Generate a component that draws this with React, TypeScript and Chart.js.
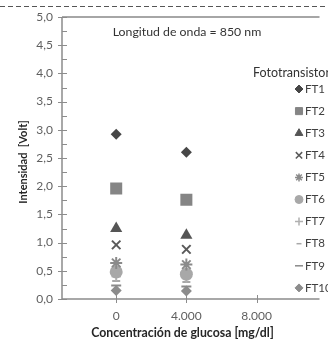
import React, { useEffect, useRef } from 'react';
import { Chart, registerables } from 'chart.js';
import { drawPoint } from 'chart.js/helpers';

Chart.register(...registerables);

// ---- data ----
const glucose = [0, 4000]; // mg/dl
const seriesNames = ['FT1', 'FT2', 'FT3', 'FT4', 'FT5', 'FT6', 'FT7', 'FT8', 'FT9', 'FT10'];
const ft1 = [2.92, 2.6];
const ft2 = [1.96, 1.76];
const ft3 = [1.25, 1.13];
const ft4 = [0.96, 0.88];
const ft5 = [0.64, 0.61];
const ft6 = [0.48, 0.44];
const ft7 = [0.4, 0.37];
const ft8 = [0.32, 0.3];
const ft9 = [0.24, 0.22];
const ft10 = [0.15, 0.14];
const seriesValues = [ft1, ft2, ft3, ft4, ft5, ft6, ft7, ft8, ft9, ft10];
const xTickValues = [0, 4000, 8000];
const yMin = 0;
const yMax = 5;
const yStep = 0.5;
const chartTitle = 'Longitud de onda = 850 nm';
const legendTitle = 'Fototransistores';
const xTitle = 'Concentración de glucosa [mg/dl]';
const yTitle = 'Intensidad  [Volt]';

// ---- styles ----
const pointStyles = ['rectRot', 'rect', 'triangle', 'crossRot', 'star', 'circle', 'cross', 'line', 'line', 'rectRot'];
const colors = ['#474747', '#858585', '#555555', '#5a5a5a', '#8a8a8a', '#a8a8a8', '#b0b0b0', '#a8a8a8', '#8a8a8a', '#8c8c8c'];
const radii = [5.5, 8.5, 7, 6, 6, 6.5, 4.5, 4, 5, 5.5];
const legendRadii = [4, 5, 4.5, 4.5, 4, 4, 4, 2.5, 4, 4];
const FONT = 'Lato, "Open Sans", sans-serif';

const fmtThousands = (v: number) => String(v).replace(/\B(?=(\d{3})+(?!\d))/g, '.');

const decorPlugin = {
  id: 'decor',
  beforeDatasetsDraw(chart: any) {
    const { ctx, chartArea, scales, width } = chart;
    const { left, right, top, bottom } = chartArea;
    ctx.save();
    // dashed line on top
    ctx.strokeStyle = '#555555';
    ctx.lineWidth = 1;
    ctx.setLineDash([5, 3]);
    ctx.beginPath();
    ctx.moveTo(0, 6.5);
    ctx.lineTo(width, 6.5);
    ctx.stroke();
    ctx.setLineDash([]);
    // top border
    ctx.strokeStyle = '#a6a6a6';
    ctx.lineWidth = 2;
    ctx.beginPath();
    ctx.moveTo(left, top);
    ctx.lineTo(right, top);
    ctx.stroke();
    // axes
    ctx.strokeStyle = '#8c8c8c';
    ctx.lineWidth = 1.5;
    ctx.beginPath();
    ctx.moveTo(left, top);
    ctx.lineTo(left, bottom);
    ctx.moveTo(left, bottom);
    ctx.lineTo(right, bottom);
    ctx.stroke();
    // y ticks (major crossing, minor inside)
    ctx.lineWidth = 1;
    const ys = scales.y;
    for (let v = yMin; v <= yMax + 1e-9; v += yStep / 2) {
      const py = Math.round(ys.getPixelForValue(v)) + 0.5;
      const major = Math.abs(v / yStep - Math.round(v / yStep)) < 1e-6;
      ctx.beginPath();
      ctx.moveTo(major ? left - 4 : left, py);
      ctx.lineTo(left + 5, py);
      ctx.stroke();
    }
    // x ticks crossing
    const xs = scales.x;
    for (const v of xTickValues) {
      const px = Math.round(xs.getPixelForValue(v)) + 0.5;
      ctx.beginPath();
      ctx.moveTo(px, bottom - 4);
      ctx.lineTo(px, bottom + 4);
      ctx.stroke();
    }
    ctx.restore();
  },
  afterDraw(chart: any) {
    const { ctx } = chart;
    ctx.save();
    // chart title
    ctx.fillStyle = '#333333';
    ctx.font = `12.3px ${FONT}`;
    ctx.textAlign = 'center';
    ctx.textBaseline = 'middle';
    ctx.fillText(chartTitle, 187, 32);
    // x title
    ctx.font = `bold 12.3px ${FONT}`;
    ctx.fillStyle = '#262626';
    ctx.fillText(xTitle, (92 + 273) / 2, 333);
    // y title
    ctx.save();
    ctx.translate(23, 162);
    ctx.rotate(-Math.PI / 2);
    ctx.font = `bold 11px ${FONT}`;
    ctx.fillText(yTitle, 0, 0);
    ctx.restore();
    // legend
    ctx.textAlign = 'left';
    ctx.font = `12.5px ${FONT}`;
    ctx.fillStyle = '#333333';
    ctx.fillText(legendTitle, 253, 73);
    chart.data.datasets.forEach((ds: any, i: number) => {
      const y = 89 + i * 22.1;
      ctx.fillStyle = colors[i];
      ctx.strokeStyle = colors[i];
      ctx.lineWidth = ['crossRot', 'star', 'cross', 'line'].includes(pointStyles[i]) ? 1.5 : 1;
      drawPoint(ctx, { pointStyle: pointStyles[i], rotation: 0, radius: legendRadii[i], borderWidth: 1 }, 299, y);
      ctx.fillStyle = '#404040';
      ctx.font = `11.5px ${FONT}`;
      ctx.fillText(ds.label, 305, y);
    });
    ctx.restore();
  },
};

export default function App() {
  const ref = useRef<HTMLCanvasElement | null>(null);
  useEffect(() => {
    if (!ref.current) return;
    const datasets = seriesNames.map((name, i) => {
      const stroked = ['crossRot', 'star', 'cross', 'line'].includes(pointStyles[i]);
      return {
        label: name,
        data: glucose.map((x, j) => ({ x, y: seriesValues[i][j] })),
        pointStyle: pointStyles[i],
        pointRadius: radii[i],
        pointHoverRadius: radii[i],
        backgroundColor: colors[i],
        borderColor: colors[i],
        borderWidth: stroked ? 2 : 0,
        showLine: false,
      };
    });
    const chart = new Chart(ref.current, {
      type: 'scatter',
      data: { datasets } as any,
      plugins: [decorPlugin],
      options: {
        animation: false,
        responsive: false,
        devicePixelRatio: 1,
        layout: { padding: { top: 17, right: 0, left: 0, bottom: 0 } },
        plugins: { legend: { display: false }, tooltip: { enabled: false }, title: { display: false } },
        scales: {
          x: {
            type: 'linear',
            min: -3090,
            max: 11590,
            afterBuildTicks: (s: any) => {
              s.ticks = xTickValues.map((v) => ({ value: v }));
            },
            afterFit: (s: any) => {
              s.height = 41;
            },
            grid: { display: false, drawTicks: false },
            border: { display: false },
            ticks: {
              color: '#5f5f5f',
              font: { family: FONT, size: 12 },
              padding: 10,
              maxRotation: 0,
              autoSkip: false,
              callback: (v: any) => fmtThousands(Number(v)),
            },
          },
          y: {
            min: yMin,
            max: yMax,
            afterFit: (s: any) => {
              s.width = 62;
            },
            grid: { display: false, drawTicks: false },
            border: { display: false },
            ticks: {
              stepSize: yStep,
              color: '#5f5f5f',
              font: { family: FONT, size: 12 },
              padding: 9,
              callback: (v: any) => Number(v).toFixed(1).replace('.', ','),
            },
          },
        },
      } as any,
    });
    return () => chart.destroy();
  }, []);
  return (
    <div style={{ position: 'absolute', left: 0, top: 0, width: 328, height: 340, background: '#fff' }}>
      <canvas ref={ref} width={328} height={340} style={{ display: 'block' }} />
    </div>
  );
}
